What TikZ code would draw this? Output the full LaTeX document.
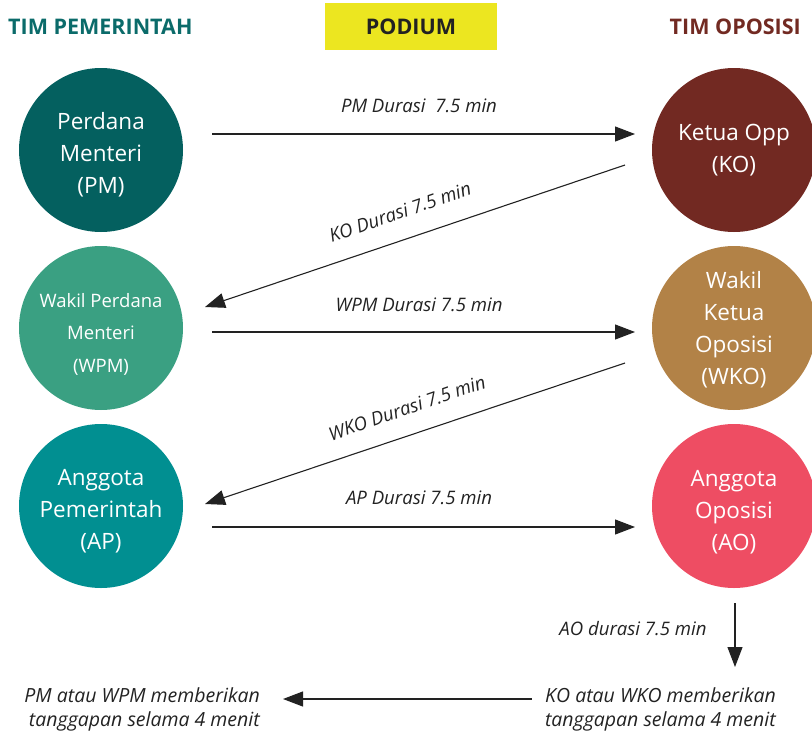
\documentclass[tikz,border=0pt]{standalone}
\usepackage{fontspec}
\setmainfont{Open Sans}
\usetikzlibrary{arrows.meta,calc}
\definecolor{hdrteal}{HTML}{0B6B6A}
\definecolor{hdrred}{HTML}{722A22}
\definecolor{podyel}{HTML}{ECE620}
\definecolor{cPM}{HTML}{04605F}
\definecolor{cKO}{HTML}{722922}
\definecolor{cWPM}{HTML}{3AA082}
\definecolor{cWKO}{HTML}{B28247}
\definecolor{cAP}{HTML}{018F91}
\definecolor{cAO}{HTML}{EE4D63}
\definecolor{ink}{HTML}{222222}
\begin{document}
\begin{tikzpicture}[x=1pt,y=-1pt,
  circ/.style={circle, minimum size=164pt, inner sep=0pt},
  ctext/.style={text=white, align=center, inner sep=0pt, font=\fontsize{22.5}{32}\selectfont},
  arr/.style={draw=ink, line width=1.1pt, -{Triangle[length=20pt,width=15pt]}},
  lab/.style={font=\fontsize{18.6}{20}\selectfont\itshape, text=ink, inner sep=0pt},
  note/.style={font=\fontsize{19.5}{24}\selectfont\itshape, text=ink, align=right, inner sep=0pt},
  hdr/.style={font=\fontsize{21.5}{24}\selectfont\bfseries, inner sep=0pt}
]
\useasboundingbox (0,0) rectangle (812,734);

% headers
\node[hdr, text=hdrteal, anchor=west] (hL) at (8,27) {TIM PEMERINTAH};
\node[hdr, text=hdrred, anchor=east] (hR) at (801,27) {TIM OPOSISI};
\node[fill=podyel, minimum width=172pt, minimum height=47pt, inner sep=0pt] (pod) at (411,26.5) {};
\node[hdr, text=ink] (podt) at (pod.center) {PODIUM};

% circles
\node[circ, fill=cPM] (PM) at (101,150) {};
\node[circ, fill=cKO] (KO) at (734,150) {};
\node[circ, fill=cWPM] (WPM) at (101,328) {};
\node[circ, fill=cWKO] (WKO) at (734,328) {};
\node[circ, fill=cAP] (AP) at (101,506) {};
\node[circ, fill=cAO] (AO) at (734,506) {};

\node[ctext] (PMt) at ($(PM.center)+(0,5)$) {Perdana\\Menteri\\(PM)};
\node[ctext] (KOt) at ($(KO.center)+(0,0)$) {Ketua Opp\\(KO)};
\node[ctext, font=\fontsize{18.5}{32.5}\selectfont] (WPMt) at ($(WPM.center)+(0,6)$) {Wakil Perdana\\Menteri\\(WPM)};
\node[ctext] (WKOt) at ($(WKO.center)+(0,1.5)$) {Wakil\\Ketua\\Oposisi\\(WKO)};
\node[ctext] (APt) at ($(AP.center)+(0,5)$) {Anggota\\Pemerintah\\(AP)};
\node[ctext] (AOt) at ($(AO.center)+(0,6)$) {Anggota\\Oposisi\\(AO)};

% arrows
\draw[arr] ($(PM.center)+(111,-16)$) -- ($(KO.center)+(-99,-16)$);
\draw[arr] ($(KO.center)+(-109,15)$) -- ($(WPM.center)+(104,-21)$);
\draw[arr] ($(WPM.center)+(111,4)$) -- ($(WKO.center)+(-99,4)$);
\draw[arr] ($(WKO.center)+(-109,35)$) -- ($(AP.center)+(104,-2)$);
\draw[arr] ($(AP.center)+(111,21)$) -- ($(AO.center)+(-99,21)$);

% labels
\node[lab] (l1) at (419,106) {PM Durasi \ 7.5 min};
\node[lab, rotate=19] (l2) at (400,212) {KO Durasi 7.5 min};
\node[lab] (l3) at (419,305) {WPM Durasi 7.5 min};
\node[lab, rotate=19] (l4) at (407,408) {WKO Durasi 7.5 min};
\node[lab] (l5) at (419,498) {AP Durasi 7.5 min};
\node[lab] (l6) at (633,629) {AO durasi 7.5 min};

% bottom
\node[note, anchor=east] (KOr) at (776,709) {KO atau WKO memberikan\\tanggapan selama 4 menit};
\node[note, anchor=east] (PMr) at (260,709) {PM atau WPM memberikan\\tanggapan selama 4 menit};
\coordinate (dtip) at (735,667);
\draw[arr] ($(AO.center)+(1,97)$) -- (dtip);
\draw[arr] ($(KOr.west)+(-13,-10)$) -- ($(PMr.east)+(23,-10)$);
\end{tikzpicture}
\end{document}
